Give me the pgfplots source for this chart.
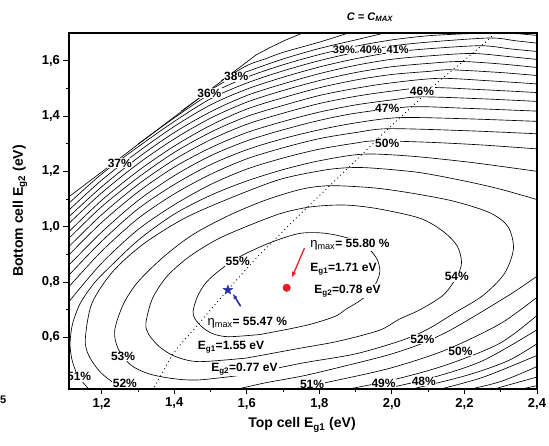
\documentclass[border=0pt]{standalone}
\usepackage{fontspec}
\setmainfont{Liberation Sans}
\usepackage{pgfplots}
\pgfplotsset{compat=1.18}
\usetikzlibrary{arrows.meta}
\definecolor{starblue}{RGB}{40,50,165}
\definecolor{dotred}{RGB}{228,30,36}
\tikzset{
  contour/.style={black, line width=0.65pt, smooth, mark=none},
  lbl/.style={fill=white, inner sep=0.6pt, font=\bfseries\fontsize{12}{14}\selectfont},
  slbl/.style={fill=white, inner sep=0.4pt, font=\bfseries\fontsize{11}{13}\selectfont},
  txt/.style={fill=white, inner sep=1pt, anchor=west, font=\bfseries\fontsize{12}{14}\selectfont},
}
\pgfdeclareplotmark{fstar}{%
  \pgfpathmoveto{\pgfqpoint{0pt}{1\pgfplotmarksize}}%
  \pgfpathlineto{\pgfqpoint{-0.235\pgfplotmarksize}{0.324\pgfplotmarksize}}%
  \pgfpathlineto{\pgfqpoint{-0.951\pgfplotmarksize}{0.309\pgfplotmarksize}}%
  \pgfpathlineto{\pgfqpoint{-0.380\pgfplotmarksize}{-0.124\pgfplotmarksize}}%
  \pgfpathlineto{\pgfqpoint{-0.588\pgfplotmarksize}{-0.809\pgfplotmarksize}}%
  \pgfpathlineto{\pgfqpoint{0pt}{-0.4\pgfplotmarksize}}%
  \pgfpathlineto{\pgfqpoint{0.588\pgfplotmarksize}{-0.809\pgfplotmarksize}}%
  \pgfpathlineto{\pgfqpoint{0.380\pgfplotmarksize}{-0.124\pgfplotmarksize}}%
  \pgfpathlineto{\pgfqpoint{0.951\pgfplotmarksize}{0.309\pgfplotmarksize}}%
  \pgfpathlineto{\pgfqpoint{0.235\pgfplotmarksize}{0.324\pgfplotmarksize}}%
  \pgfpathclose
  \pgfusepathqfillstroke
}
\begin{document}
\begin{tikzpicture}
\useasboundingbox (0pt,0pt) rectangle (549pt,446pt);
\begin{axis}[
  at={(69pt,57pt)}, anchor=south west, scale only axis,
  width=468pt, height=356pt,
  xmin=1.11, xmax=2.4, ymin=0.413, ymax=1.70,
  axis on top,
  xtick={1.2,1.4,1.6,1.8,2.0,2.2,2.4},
  ytick={0.6,0.8,1.0,1.2,1.4,1.6},
  minor x tick num=1, minor y tick num=1,
  tick align=outside, tick pos=left,
  major tick length=5.5pt, minor tick length=3pt,
  tick style={black, line width=0.8pt},
  axis line style={line width=1.1pt},
  ticklabel style={font=\bfseries\fontsize{13}{15}\selectfont,
    /pgf/number format/.cd, use comma, fixed, fixed zerofill, precision=1, assume math mode=true},
]
% ---- closed contours (55, 54, 53 %) ----
\addplot[contour] coordinates {(1.637,0.61) (1.549,0.602) (1.506,0.613) (1.477,0.637) (1.457,0.667) (1.452,0.694) (1.464,0.747) (1.488,0.798) (1.53,0.847) (1.583,0.893) (1.648,0.933) (1.703,0.96) (1.748,0.976) (1.796,0.978) (1.844,0.97) (1.906,0.947) (1.94,0.915) (1.96,0.88) (1.967,0.84) (1.96,0.806) (1.94,0.762) (1.906,0.727) (1.875,0.703) (1.846,0.677) (1.784,0.65) (1.728,0.633) (1.637,0.61)};
\addplot[contour] coordinates {(1.6,0.525) (1.745,0.56) (1.85,0.585) (1.965,0.625) (2.02,0.665) (2.078,0.70) (2.142,0.753) (2.179,0.819) (2.192,0.87) (2.18,0.93) (2.142,0.982) (2.078,1.03) (1.96,1.065) (1.87,1.078) (1.78,1.072) (1.70,1.05) (1.617,1.01) (1.52,0.955) (1.44,0.89) (1.38,0.82) (1.34,0.74) (1.322,0.651) (1.33,0.61) (1.36,0.565) (1.404,0.53) (1.468,0.512) (1.6,0.525)};
\addplot[contour] coordinates {(1.60,0.465) (1.75,0.506) (1.90,0.54) (2.03,0.59) (2.10,0.63) (2.17,0.686) (2.25,0.75) (2.31,0.83) (2.335,0.92) (2.32,1.0) (2.27,1.05) (2.17,1.092) (2.05,1.122) (1.95,1.14) (1.83,1.148) (1.75,1.135) (1.65,1.095) (1.55,1.04) (1.45,0.97) (1.37,0.89) (1.30,0.80) (1.26,0.72) (1.236,0.625) (1.245,0.56) (1.28,0.50) (1.33,0.468) (1.40,0.45) (1.47,0.446) (1.60,0.465)};
% ---- 52 % ----
\addplot[contour] coordinates {(1.27,0.40) (1.201,0.468) (1.165,0.533) (1.155,0.593) (1.173,0.722) (1.231,0.838) (1.318,0.94) (1.434,1.034) (1.575,1.114) (1.695,1.172) (1.812,1.204) (1.88,1.213) (1.942,1.212) (2.073,1.196) (2.2,1.165) (2.3,1.135) (2.41,1.094)};
\addplot[contour] coordinates {(1.55,0.405) (1.65,0.435) (1.761,0.462) (1.913,0.51) (2.0,0.54) (2.084,0.578) (2.16,0.625) (2.245,0.69) (2.338,0.765) (2.41,0.83)};
% ---- 51 % ----
\addplot[contour] coordinates {(1.17,0.405) (1.135,0.46) (1.118,0.52) (1.113,0.58) (1.12,0.65) (1.14,0.72) (1.17,0.78) (1.2,0.825) (1.3,0.95) (1.4,1.045) (1.5,1.113) (1.6,1.165) (1.7,1.206) (1.8,1.238) (1.92,1.262) (2.05,1.255) (2.2,1.235) (2.3,1.218) (2.41,1.198)};
\addplot[contour] coordinates {(1.70,0.405) (1.85,0.445) (2.0,0.49) (2.15,0.555) (2.3,0.65) (2.41,0.755)};
% ---- lower right family (50 ... 44 %) ----
\addplot[contour] coordinates {(1.85,0.405) (2.0,0.445) (2.15,0.5) (2.3,0.58) (2.41,0.69)};
\addplot[contour] coordinates {(1.95,0.405) (2.1,0.45) (2.25,0.515) (2.41,0.635)};
\addplot[contour] coordinates {(2.03,0.405) (2.2,0.46) (2.32,0.515) (2.41,0.585)};
\addplot[contour] coordinates {(2.11,0.405) (2.25,0.455) (2.41,0.54)};
\addplot[contour] coordinates {(2.19,0.405) (2.3,0.44) (2.41,0.5)};
\addplot[contour] coordinates {(2.26,0.405) (2.41,0.46)};
\addplot[contour] coordinates {(2.33,0.405) (2.41,0.428)};
% ---- upper family (50 ... 36 %) ----
\addplot[contour] coordinates {(1.11,0.729) (1.2,0.868) (1.3,0.989) (1.4,1.079) (1.5,1.152) (1.6,1.208) (1.7,1.248) (1.8,1.28) (1.9,1.302) (1.955,1.31) (2.1,1.305) (2.25,1.295) (2.41,1.28)};
\addplot[contour] coordinates {(1.11,0.783) (1.2,0.911) (1.3,1.029) (1.4,1.118) (1.5,1.189) (1.6,1.245) (1.7,1.285) (1.8,1.318) (1.9,1.34) (1.99,1.354) (2.2,1.347) (2.41,1.335)};
\addplot[contour] coordinates {(1.11,0.825) (1.2,0.947) (1.3,1.064) (1.4,1.152) (1.5,1.224) (1.6,1.278) (1.7,1.318) (1.8,1.35) (1.9,1.375) (2.02,1.394) (2.2,1.39) (2.41,1.38)};
\addplot[contour] coordinates {(1.11,0.861) (1.2,0.98) (1.3,1.094) (1.4,1.184) (1.5,1.256) (1.6,1.31) (1.7,1.35) (1.8,1.384) (1.9,1.41) (2.05,1.433) (2.2,1.428) (2.41,1.417)};
\addplot[contour] coordinates {(1.11,0.898) (1.2,1.015) (1.3,1.125) (1.4,1.215) (1.5,1.285) (1.6,1.34) (1.7,1.38) (1.8,1.414) (1.9,1.44) (2.0,1.458) (2.08,1.469) (2.25,1.462) (2.41,1.452)};
\addplot[contour] coordinates {(1.11,0.928) (1.2,1.043) (1.3,1.152) (1.4,1.242) (1.5,1.314) (1.6,1.37) (1.7,1.41) (1.8,1.445) (1.9,1.471) (2.0,1.49) (2.1,1.503) (2.25,1.495) (2.41,1.484)};
\addplot[contour] coordinates {(1.11,0.958) (1.2,1.072) (1.3,1.177) (1.4,1.268) (1.5,1.341) (1.6,1.398) (1.7,1.438) (1.8,1.474) (1.9,1.5) (2.0,1.52) (2.13,1.536) (2.27,1.527) (2.41,1.515)};
\addplot[contour] coordinates {(1.11,0.982) (1.2,1.095) (1.3,1.201) (1.4,1.291) (1.5,1.366) (1.6,1.425) (1.7,1.466) (1.8,1.502) (1.9,1.53) (2.0,1.55) (2.1,1.561) (2.16,1.567) (2.3,1.557) (2.41,1.545)};
\addplot[contour] coordinates {(1.11,1.012) (1.2,1.122) (1.3,1.227) (1.4,1.317) (1.5,1.392) (1.6,1.45) (1.7,1.492) (1.8,1.528) (1.9,1.557) (2.0,1.578) (2.1,1.59) (2.19,1.597) (2.3,1.588) (2.41,1.574)};
\addplot[contour] coordinates {(1.11,1.036) (1.2,1.144) (1.3,1.249) (1.4,1.34) (1.5,1.415) (1.6,1.474) (1.7,1.516) (1.8,1.553) (1.9,1.583) (2.0,1.605) (2.1,1.617) (2.22,1.626) (2.32,1.615) (2.41,1.603)};
\addplot[contour] coordinates {(1.11,1.06) (1.2,1.168) (1.3,1.27) (1.4,1.362) (1.5,1.44) (1.6,1.497) (1.7,1.54) (1.8,1.577) (1.9,1.607) (2.0,1.63) (2.1,1.643) (2.245,1.654) (2.33,1.642) (2.41,1.632)};
\addplot[contour] coordinates {(1.11,1.085) (1.2,1.19) (1.3,1.288) (1.4,1.38) (1.5,1.462) (1.6,1.519) (1.7,1.563) (1.8,1.6) (1.9,1.63) (2.0,1.653) (2.1,1.667) (2.27,1.682) (2.34,1.672) (2.41,1.662)};
\addplot[contour] coordinates {(1.30,1.298) (1.4,1.393) (1.5,1.48) (1.6,1.54) (1.7,1.585) (1.8,1.622) (1.9,1.652) (2.0,1.675) (2.1,1.69) (2.2,1.697) (2.29,1.70) (2.35,1.697) (2.41,1.69)};
\addplot[contour] coordinates {(1.42,1.418) (1.5,1.493) (1.55,1.532) (1.6,1.56) (1.7,1.606) (1.8,1.644) (1.9,1.675) (1.98,1.70) (2.0,1.706)};
\addplot[contour] coordinates {(1.53,1.528) (1.6,1.582) (1.65,1.606) (1.7,1.63) (1.8,1.667) (1.88,1.70) (1.9,1.71)};
% boundary line
\addplot[black, line width=0.65pt, mark=none] coordinates {(1.10,1.098) (1.626,1.621) (1.665,1.648) (1.708,1.675) (1.754,1.70) (1.77,1.71)};
% current matching (dotted) line
\addplot[black, line width=0.9pt, smooth, mark=none, dash pattern=on 0.9pt off 3.2pt] coordinates {(1.345,0.42) (1.374,0.488) (1.401,0.548) (1.465,0.645) (1.52,0.73) (1.58,0.819) (1.635,0.898) (1.745,1.042) (1.85,1.175) (1.948,1.30) (1.987,1.35) (2.07,1.452) (2.124,1.519) (2.179,1.579) (2.234,1.639) (2.28,1.693)};
% contour labels
\node[slbl] at (axis cs:1.868,1.639) {39\%};
\node[slbl] at (axis cs:1.942,1.639) {40\%};
\node[slbl] at (axis cs:2.016,1.639) {41\%};
\node[lbl] at (axis cs:1.571,1.542) {38\%};
\node[lbl] at (axis cs:1.497,1.482) {36\%};
\node[lbl] at (axis cs:1.25,1.229) {37\%};
\node[lbl] at (axis cs:2.083,1.488) {46\%};
\node[lbl] at (axis cs:1.987,1.428) {47\%};
\node[lbl] at (axis cs:1.987,1.302) {50\%};
\node[lbl] at (axis cs:1.575,0.873) {55\%};
\node[lbl] at (axis cs:2.179,0.819) {54\%};
\node[lbl] at (axis cs:1.259,0.530) {53\%};
\node[lbl] at (axis cs:1.264,0.434) {52\%};
\node[lbl] at (axis cs:2.084,0.593) {52\%};
\node[lbl] at (axis cs:1.138,0.457) {51\%};
\node[lbl] at (axis cs:1.78,0.430) {51\%};
\node[lbl] at (axis cs:1.977,0.432) {49\%};
\node[lbl] at (axis cs:2.088,0.440) {48\%};
\node[lbl] at (axis cs:2.189,0.548) {50\%};
% annotations
\node[txt] at (axis cs:1.772,0.934) {{\mdseries\fontsize{13}{14}\selectfont η\textsubscript{max}}= 55.80 \%};
\node[txt] at (axis cs:1.772,0.847) {E\textsubscript{g1}=1.71 eV};
\node[txt] at (axis cs:1.783,0.767) {E\textsubscript{g2}=0.78 eV};
\node[txt] at (axis cs:1.489,0.652) {{\mdseries\fontsize{13}{14}\selectfont η\textsubscript{max}}= 55.47 \%};
\node[txt] at (axis cs:1.462,0.565) {E\textsubscript{g1}=1.55 eV};
\node[txt] at (axis cs:1.499,0.485) {E\textsubscript{g2}=0.77 eV};
\draw[dotred, line width=1.3pt, -{Latex[length=6pt,width=4.5pt]}] (axis cs:1.759,0.922) -- (axis cs:1.724,0.815);
\draw[starblue, line width=1.6pt, -{Latex[length=5pt,width=4.5pt]}] (axis cs:1.583,0.712) -- (axis cs:1.562,0.757);
\addplot[only marks, mark=*, mark size=3.8pt, color=dotred] coordinates {(1.71,0.779)};
\addplot[only marks, mark=fstar, mark size=5pt, color=starblue, fill=starblue] coordinates {(1.548,0.771)};
\end{axis}
\node[font=\bfseries\itshape\fontsize{11}{13}\selectfont] at (370pt,429pt) {C = C\textsubscript{MAX}};
\node[font=\bfseries\fontsize{14}{16}\selectfont] at (302pt,21pt) {Top cell E\textsubscript{g1} (eV)};
\node[rotate=90, font=\bfseries\fontsize{14}{16}\selectfont] at (20pt,235pt) {Bottom cell E\textsubscript{g2} (eV)};
\node[anchor=west, inner sep=0pt, font=\bfseries\fontsize{11}{13}\selectfont] at (0pt,46pt) {5};
\end{tikzpicture}
\end{document}
